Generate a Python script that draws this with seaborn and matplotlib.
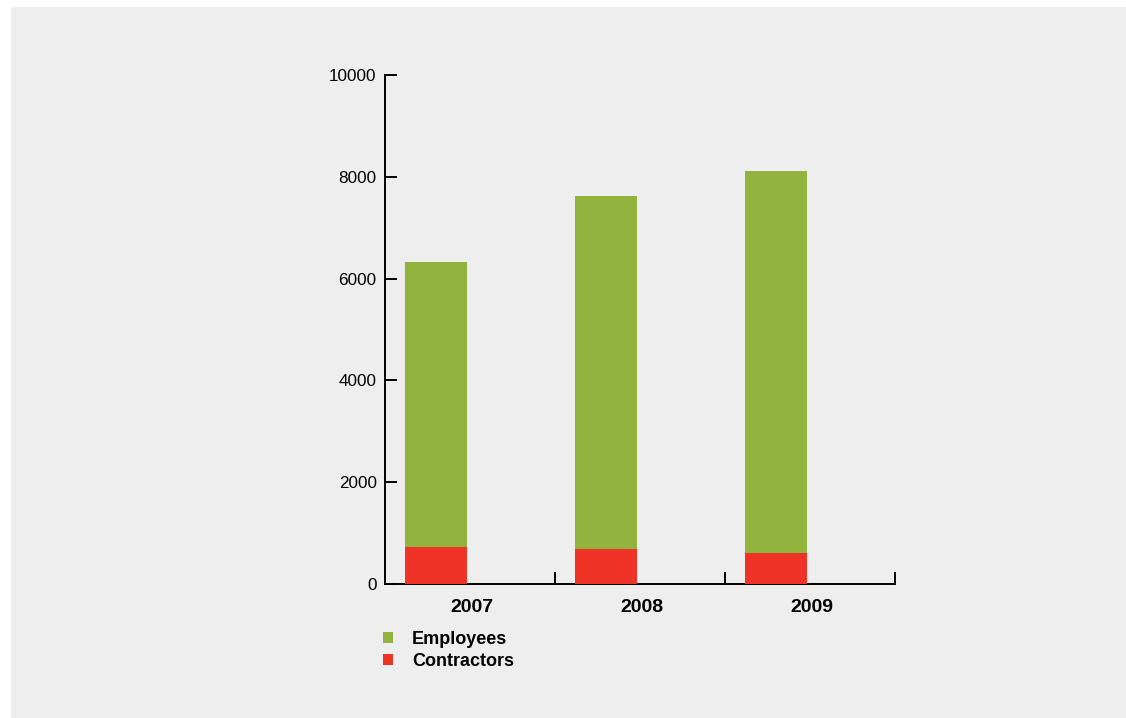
import matplotlib
matplotlib.use("Agg")
import matplotlib.pyplot as plt
from matplotlib.patches import Rectangle, Patch
from matplotlib.ticker import FixedLocator
import numpy as np
import pandas as pd
import seaborn as sns

# Workforce by year
years = ["2007", "2008", "2009"]
employees = [5600, 6930, 7500]
contractors = [730, 690, 610]
series_labels = ["Employees", "Contractors"]
y_ticks = [0, 2000, 4000, 6000, 8000, 10000]

GREEN = "#93b33f"
RED = "#ef3326"
PANEL = "#eeeeee"

sns.set_theme(style="ticks")
plt.rcParams["font.family"] = ["Liberation Sans", "DejaVu Sans"]
plt.rcParams["text.color"] = "black"
plt.rcParams["xtick.labelcolor"] = "black"
plt.rcParams["ytick.labelcolor"] = "black"

df = pd.DataFrame({"year": years, "employees": employees, "contractors": contractors})
df["total"] = df["employees"] + df["contractors"]

W, H = 1126, 718
fig = plt.figure(figsize=(W / 100, H / 100), dpi=100, facecolor="white")

# light grey panel behind the chart
fig.patches.append(Rectangle((11 / W, 0), 1 - 11 / W, 1 - 7 / H,
                             transform=fig.transFigure, facecolor=PANEL,
                             edgecolor="none", zorder=-5))

ax = fig.add_axes([385 / W, 1 - 584 / H, (895 - 385) / W, (584 - 75) / H])
ax.set_facecolor("none")
ax.set_zorder(1)

bar_w = 62 / 170
sns.barplot(data=df, x="year", y="total", color=GREEN, saturation=1,
            width=bar_w, ax=ax, zorder=3, linewidth=0, edgecolor="none")
sns.barplot(data=df, x="year", y="contractors", color=RED, saturation=1,
            width=bar_w, ax=ax, zorder=4, linewidth=0, edgecolor="none")

# each year's slot spans a unit; bars sit toward the left of their slot
n = len(years)
pos = np.arange(n)
ax.set_xlim(-0.3, n - 0.3)
ax.set_ylim(0, 10000)

ax.xaxis.set_major_locator(FixedLocator(pos + 0.21))
ax.set_xticklabels(years, fontsize=14, fontweight="bold")
ax.xaxis.set_minor_locator(FixedLocator(pos + 0.7))
ax.tick_params(axis="x", which="major", length=0, pad=10.5)
ax.tick_params(axis="x", which="minor", direction="in", length=8.5,
               width=1.4, color="black")

ax.set_yticks(y_ticks)
ax.set_yticklabels([str(v) for v in y_ticks], fontsize=12.3)
ax.tick_params(axis="y", direction="in", length=8.5, width=1.4,
               color="black", pad=6)

ax.set_xlabel("")
ax.set_ylabel("")
for side in ("top", "right"):
    ax.spines[side].set_visible(False)
for side in ("left", "bottom"):
    ax.spines[side].set_linewidth(1.4)
    ax.spines[side].set_color("black")
    ax.spines[side].set_zorder(2)

handles = [Patch(facecolor=GREEN, edgecolor="none"),
           Patch(facecolor=RED, edgecolor="none")]
fig.legend(handles, series_labels, loc="upper left",
           bbox_to_anchor=(383 / W, 1 - 631 / H), frameon=False,
           borderpad=0, borderaxespad=0, handlelength=0.55,
           handleheight=0.55, handletextpad=1.05, labelspacing=0.28,
           prop={"size": 13, "weight": "bold"})

fig.savefig("out.png", dpi=100, facecolor="white")
